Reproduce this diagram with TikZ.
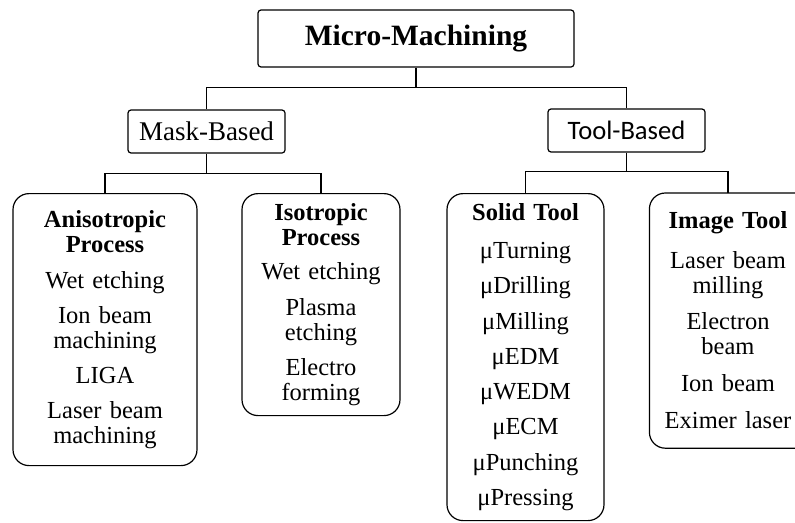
\documentclass[tikz,border=0pt]{standalone}
\usepackage{fontspec}
\setmainfont{Liberation Serif}
\newfontfamily\toolfont{Carlito}
\usetikzlibrary{positioning}

\begin{document}
\begin{tikzpicture}[x=1pt, y=-1pt,
  headbox/.style={draw, line width=1.2pt, rounded corners=3pt, inner sep=0pt},
  leafbox/.style={draw, line width=1.2pt, rounded corners=16pt, inner xsep=2pt, inner ysep=0pt, anchor=north, align=center, font=\fontsize{24.5}{25}\selectfont},
  link/.style={line width=1.2pt}]

\useasboundingbox (0,0) rectangle (795,522);
\clip (0,0) rectangle (795,522);


% top level
\node[headbox, minimum width=316pt, minimum height=57pt, font=\bfseries\fontsize{29.5}{30}\selectfont] (root) at (416,38.5) {Micro-Machining};


\node[headbox, minimum width=157pt, minimum height=43pt, font=\fontsize{27}{28}\selectfont] (mask) at (206.5,131.5) {Mask-Based};

\node[headbox, minimum width=157pt, minimum height=43pt, font=\toolfont\fontsize{26.6}{28}\selectfont] (tool) at (626.5,130.5) {Tool-Based};


% leaves
\node[leafbox, text width=180pt, minimum height=272pt] (aniso) at (105,193)
{\textbf{Anisotropic}\\\textbf{Process}\\[11pt]
Wet etching\\[10pt]
Ion beam\\machining\\[10pt]
LIGA\\[10pt]
Laser beam\\machining};

\node[leafbox, text width=154pt, minimum height=222pt] (iso) at (321,193)
{\textbf{Isotropic}\\\textbf{Process}\\[9pt]
Wet etching\\[11pt]
Plasma\\etching\\[10pt]
Electro\\forming};

\node[leafbox, text width=153pt, minimum height=327pt] (solid) at (525.5,193)
{\textbf{Solid Tool}\\[13pt]
μTurning\\[10.3pt]
μDrilling\\[10.3pt]
μMilling\\[10.3pt]
μEDM\\[10.3pt]
μWEDM\\[10.3pt]
μECM\\[10.3pt]
μPunching\\[10.3pt]
μPressing};

% this one runs off the right edge
\node[leafbox, draw=none, text width=152pt, minimum height=254pt] (image) at (728,193)
{\textbf{Image Tool}\\[15pt]
Laser beam\\milling\\[11pt]
Electron\\beam\\[12pt]
Ion beam\\[12pt]
Eximer laser};
\draw[link, rounded corners=16pt] (image.north west) rectangle ([xshift=40pt]image.south east);


% connectors
\draw[link] (root.south) -- ++(0,20) coordinate (rootbus);
\draw[link] (rootbus) -| (mask.north);
\draw[link] (rootbus) -| (tool.north);

\draw[link] (mask.south) -- ++(0,20) coordinate (maskbus);
\draw[link] (maskbus) -| (aniso.north);
\draw[link] (maskbus) -| (iso.north);

\draw[link] (tool.south) -- ++(0,19) coordinate (toolbus);
\draw[link] (toolbus) -| (solid.north);
\draw[link] (toolbus) -| (image.north);

\end{tikzpicture}
\end{document}
